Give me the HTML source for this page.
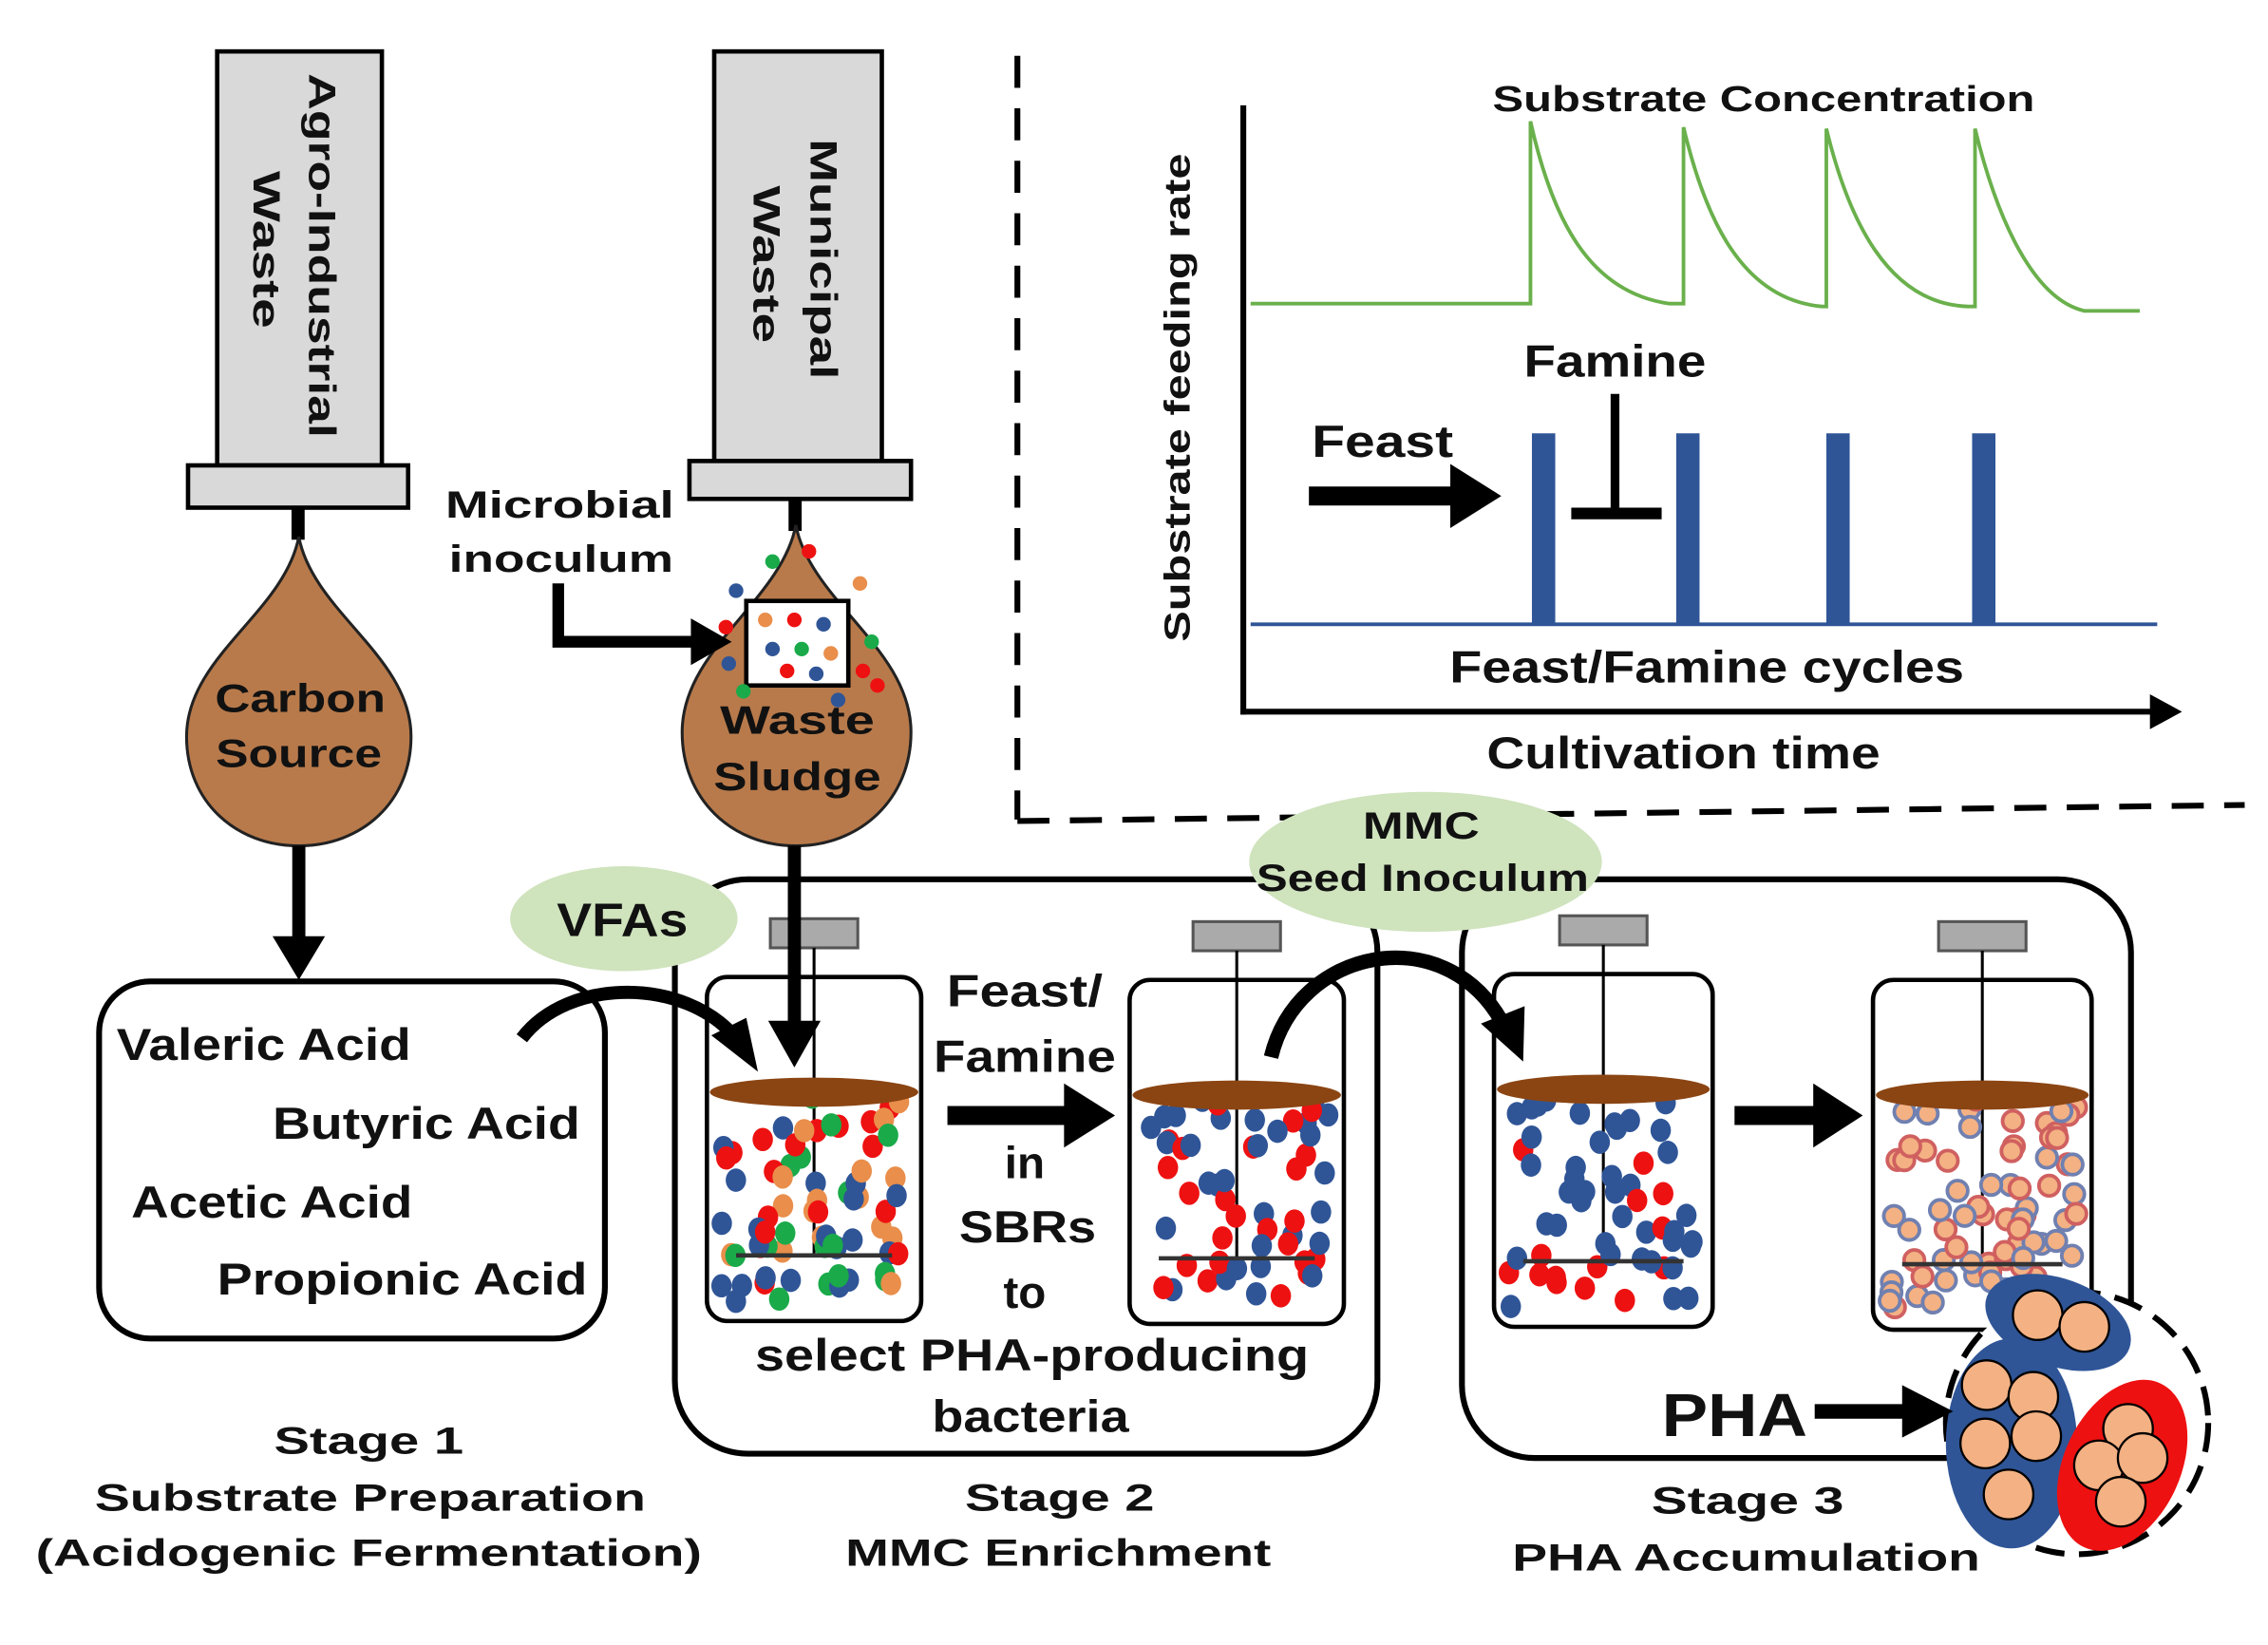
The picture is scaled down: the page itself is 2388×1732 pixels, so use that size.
<!DOCTYPE html>
<html><head><meta charset="utf-8"><style>
html,body{margin:0;padding:0;background:#fff}
svg{display:block}
text{font-family:"Liberation Sans",sans-serif;font-weight:bold;fill:#111}
</style></head><body>
<svg id="s" width="2388" height="1732" viewBox="0 0 1556 1128" xmlns="http://www.w3.org/2000/svg">
<rect width="1556" height="1128" fill="#fff"/>
<!-- dashed separators -->
<line x1="698" y1="38" x2="698" y2="562" stroke="#000" stroke-width="4" stroke-dasharray="22,14"/>
<line x1="698" y1="563" x2="1540" y2="552" stroke="#000" stroke-width="4" stroke-dasharray="22,14"/>

<!-- syringe 1 -->
<rect x="149" y="35" width="113" height="284" fill="#d9d9d9" stroke="#000" stroke-width="3"/>
<rect x="129" y="319" width="151" height="29" fill="#d9d9d9" stroke="#000" stroke-width="3"/>
<rect x="200" y="348" width="9" height="22" fill="#000"/>
<path d="M205,368 C215,420 282,450 282,505 C282,550 248,580 205,580 C162,580 128,550 128,505 C128,450 195,420 205,368 Z" fill="#b87a4b" stroke="#222" stroke-width="2"/>
<text x="206" y="488" font-size="27" text-anchor="middle" textLength="117" lengthAdjust="spacingAndGlyphs">Carbon</text>
<text x="205" y="526" font-size="27" text-anchor="middle" textLength="114" lengthAdjust="spacingAndGlyphs">Source</text>
<text transform="translate(212,50) rotate(90)" font-size="26" textLength="250" lengthAdjust="spacingAndGlyphs">Agro-Industrial</text>
<text transform="translate(174,117) rotate(90)" font-size="26" textLength="108" lengthAdjust="spacingAndGlyphs">Waste</text>

<!-- syringe 2 -->
<rect x="490" y="35" width="115" height="281" fill="#d9d9d9" stroke="#000" stroke-width="3"/>
<rect x="473" y="316" width="152" height="26" fill="#d9d9d9" stroke="#000" stroke-width="3"/>
<rect x="541" y="342" width="9" height="22" fill="#000"/>
<path d="M546,360 C556,412 625,445 625,502 C625,548 590,580 546,580 C502,580 468,548 468,502 C468,445 536,412 546,360 Z" fill="#b87a4b" stroke="#222" stroke-width="2"/>
<rect x="512" y="412" width="70" height="58" fill="#fff" stroke="#000" stroke-width="3"/>
<g id="drop2"></g>
<text x="547" y="503" font-size="27" text-anchor="middle" textLength="106" lengthAdjust="spacingAndGlyphs">Waste</text>
<text x="547" y="542" font-size="27" text-anchor="middle" textLength="115" lengthAdjust="spacingAndGlyphs">Sludge</text>
<text transform="translate(556,95) rotate(90)" font-size="26" textLength="165" lengthAdjust="spacingAndGlyphs">Municipal</text>
<text transform="translate(517,127) rotate(90)" font-size="26" textLength="108" lengthAdjust="spacingAndGlyphs">Waste</text>

<text x="384" y="355" font-size="26" text-anchor="middle" textLength="157" lengthAdjust="spacingAndGlyphs">Microbial</text>
<text x="385" y="392" font-size="26" text-anchor="middle" textLength="154" lengthAdjust="spacingAndGlyphs">inoculum</text>
<path d="M383,400 L383,440 L478,440" fill="none" stroke="#000" stroke-width="8"/>
<path d="M474,424 L502,440 L474,456 Z" fill="#000"/>

<!-- arrow down 1 -->
<line x1="205" y1="580" x2="205" y2="645" stroke="#000" stroke-width="9"/>
<path d="M187,642 L205,672 L223,642 Z" fill="#000"/>

<!-- stage 1 box -->
<rect x="68" y="673" width="347" height="245" rx="35" fill="#fff" stroke="#000" stroke-width="4"/>
<text x="80" y="727" font-size="31" textLength="202" lengthAdjust="spacingAndGlyphs">Valeric Acid</text>
<text x="187" y="781" font-size="31" textLength="211" lengthAdjust="spacingAndGlyphs">Butyric Acid</text>
<text x="90" y="835" font-size="31" textLength="193" lengthAdjust="spacingAndGlyphs">Acetic Acid</text>
<text x="149" y="888" font-size="31" textLength="254" lengthAdjust="spacingAndGlyphs">Propionic Acid</text>

<!-- stage boxes -->
<rect x="463" y="603" width="482" height="394" rx="50" fill="none" stroke="#000" stroke-width="4"/>
<rect x="1003" y="603" width="459" height="397" rx="50" fill="none" stroke="#000" stroke-width="4"/>

<!-- VFAs ellipse -->
<ellipse cx="428" cy="630" rx="78" ry="36" fill="#cfe3bd"/>
<text x="427" y="642" font-size="32" text-anchor="middle" textLength="90" lengthAdjust="spacingAndGlyphs">VFAs</text>

<g id="reactors"></g>

<!-- arrows drawn over reactors -->
<path d="M358,712 C390,670 470,670 505,712" fill="none" stroke="#000" stroke-width="9"/>
<path d="M488,710 L520,735 L512,698 Z" fill="#000"/>
<line x1="545" y1="580" x2="545" y2="705" stroke="#000" stroke-width="9"/>
<path d="M527,700 L545,732 L563,700 Z" fill="#000"/>

<line x1="650" y1="765" x2="735" y2="765" stroke="#000" stroke-width="13"/>
<path d="M730,743 L765,765 L730,787 Z" fill="#000"/>
<line x1="1190" y1="765" x2="1248" y2="765" stroke="#000" stroke-width="13"/>
<path d="M1244,743 L1278,765 L1244,787 Z" fill="#000"/>
<path d="M872,725 C890,650 990,630 1030,700" fill="none" stroke="#000" stroke-width="10"/>
<path d="M1016,702 L1045,728 L1046,690 Z" fill="#000"/>

<text x="703" y="690" font-size="31" text-anchor="middle" textLength="107" lengthAdjust="spacingAndGlyphs">Feast/</text>
<text x="703" y="735" font-size="31" text-anchor="middle" textLength="125" lengthAdjust="spacingAndGlyphs">Famine</text>
<text x="703" y="808" font-size="31" text-anchor="middle">in</text>
<text x="705" y="852" font-size="31" text-anchor="middle" textLength="94" lengthAdjust="spacingAndGlyphs">SBRs</text>
<text x="703" y="897" font-size="31" text-anchor="middle">to</text>
<text x="708" y="940" font-size="31" text-anchor="middle" textLength="380" lengthAdjust="spacingAndGlyphs">select PHA-producing</text>
<text x="707" y="982" font-size="31" text-anchor="middle" textLength="135" lengthAdjust="spacingAndGlyphs">bacteria</text>

<!-- MMC ellipse -->
<ellipse cx="978" cy="591" rx="121" ry="48" fill="#cfe3bd"/>
<text x="975" y="575" font-size="26" text-anchor="middle" textLength="80" lengthAdjust="spacingAndGlyphs">MMC</text>
<text x="976" y="611" font-size="26" text-anchor="middle" textLength="228" lengthAdjust="spacingAndGlyphs">Seed Inoculum</text>

<!-- PHA circle -->
<circle cx="1425" cy="976" r="90" fill="#fff" stroke="#000" stroke-width="4" stroke-dasharray="20,10"/>
<g id="pha"></g>
<text x="1190" y="985" font-size="42" text-anchor="middle" textLength="100" lengthAdjust="spacingAndGlyphs">PHA</text>
<line x1="1245" y1="968" x2="1310" y2="968" stroke="#000" stroke-width="10"/>
<path d="M1305,950 L1340,968 L1305,986 Z" fill="#000"/>

<!-- stage labels -->
<text x="253" y="997" font-size="26" text-anchor="middle" textLength="130" lengthAdjust="spacingAndGlyphs">Stage  1</text>
<text x="254" y="1036" font-size="26" text-anchor="middle" textLength="378" lengthAdjust="spacingAndGlyphs">Substrate  Preparation</text>
<text x="253" y="1074" font-size="26" text-anchor="middle" textLength="457" lengthAdjust="spacingAndGlyphs">(Acidogenic  Fermentation)</text>
<text x="727" y="1036" font-size="26" text-anchor="middle" textLength="130" lengthAdjust="spacingAndGlyphs">Stage  2</text>
<text x="726" y="1074" font-size="26" text-anchor="middle" textLength="292" lengthAdjust="spacingAndGlyphs">MMC  Enrichment</text>
<text x="1199" y="1038" font-size="26" text-anchor="middle" textLength="132" lengthAdjust="spacingAndGlyphs">Stage  3</text>
<text x="1198" y="1077" font-size="26" text-anchor="middle" textLength="321" lengthAdjust="spacingAndGlyphs">PHA  Accumulation</text>

<!-- chart -->
<line x1="853" y1="72" x2="853" y2="490" stroke="#000" stroke-width="4"/>
<line x1="851" y1="488" x2="1478" y2="488" stroke="#000" stroke-width="4"/>
<path d="M1475,476 L1497,488 L1475,500 Z" fill="#000"/>
<text transform="translate(816,440) rotate(-90)" font-size="25" textLength="335" lengthAdjust="spacingAndGlyphs">Substrate feeding rate</text>
<text x="1210" y="76" font-size="25" text-anchor="middle" textLength="372" lengthAdjust="spacingAndGlyphs">Substrate Concentration</text>
<path d="M858,208 L1050,208 L1050,83 C1065,150 1090,200 1145,208 L1155,208 L1155,87 C1170,150 1195,205 1250,210 L1253,210 L1253,88 C1268,150 1295,208 1350,210 L1355,210 L1355,88 C1370,150 1395,205 1430,213 L1468,213" fill="none" stroke="#6ab04c" stroke-width="2.5"/>
<line x1="858" y1="428" x2="1480" y2="428" stroke="#2f5597" stroke-width="2.5"/>
<rect x="1051" y="297" width="16" height="131" fill="#2f5597"/>
<rect x="1150" y="297" width="16" height="131" fill="#2f5597"/>
<rect x="1253" y="297" width="16" height="131" fill="#2f5597"/>
<rect x="1353" y="297" width="16" height="131" fill="#2f5597"/>
<text x="1108" y="258" font-size="31" text-anchor="middle" textLength="125" lengthAdjust="spacingAndGlyphs">Famine</text>
<line x1="1108" y1="270" x2="1108" y2="352" stroke="#000" stroke-width="6"/>
<line x1="1078" y1="352" x2="1140" y2="352" stroke="#000" stroke-width="8"/>
<text x="900" y="313" font-size="31" textLength="97" lengthAdjust="spacingAndGlyphs">Feast</text>
<line x1="898" y1="340" x2="1000" y2="340" stroke="#000" stroke-width="13"/>
<path d="M995,318 L1030,340 L995,362 Z" fill="#000"/>
<text x="1171" y="468" font-size="31" text-anchor="middle" textLength="353" lengthAdjust="spacingAndGlyphs">Feast/Famine cycles</text>
<text x="1155" y="527" font-size="31" text-anchor="middle" textLength="270" lengthAdjust="spacingAndGlyphs">Cultivation time</text>
</svg>
<script>
var NS="http://www.w3.org/2000/svg";
function el(p,t,a){var e=document.createElementNS(NS,t);for(var k in a)e.setAttribute(k,a[k]);p.appendChild(e);return e;}
var seed=7;function rnd(){seed=(seed*16807)%2147483647;return seed/2147483647;}
var R=document.getElementById("reactors");
var reactors=[[485,670,147,236,0],[775,672,147,236,1],[1025,668,150,242,2],[1285,672,150,240,3]];
var BL="#2f5597",RD="#ee1111",OR="#e98e4b",GR="#1aaa4a";
reactors.forEach(function(r){
 var x=r[0],y=r[1],w=r[2],h=r[3],t=r[4],cx=x+w/2;
 el(R,"rect",{x:x,y:y,width:w,height:h,rx:14,fill:"#fff",stroke:"#000","stroke-width":3});
 el(R,"rect",{x:cx-30,y:y-40,width:60,height:20,fill:"#aaa",stroke:"#555","stroke-width":2});
 el(R,"line",{x1:cx,y1:y-20,x2:cx,y2:y+h-45,stroke:"#000","stroke-width":2});
 for(var i=0;i<(t==3?75:(t==0?70:55));i++){
  var px=x+10+rnd()*(w-20),py=y+82+rnd()*(h-95);
  var c;
  if(t==0){var q=rnd();c=q<0.35?BL:q<0.6?RD:q<0.82?OR:GR;}
  else if(t<3){c=rnd()<0.65?BL:RD;}
  else c=rnd()<0.5?"#d06060":"#7080b0";
  if(t==3){el(R,"circle",{cx:px,cy:py,r:7,fill:"#f4b183",stroke:c,"stroke-width":2.5});}
  else el(R,"ellipse",{cx:px,cy:py,rx:7,ry:8,fill:c});
 }
 el(R,"ellipse",{cx:cx,cy:y+79,rx:w/2-2,ry:10,fill:"#8b4513"});
 el(R,"line",{x1:x+20,y1:y+h-45,x2:x+w-20,y2:y+h-45,stroke:"#333","stroke-width":3});
});
var D=document.getElementById("drop2");
[[530,385,"#1aaa4a"],[555,378,"#ee1111"],[505,405,"#2f5597"],[590,400,"#e98e4b"],[498,430,"#ee1111"],[598,440,"#1aaa4a"],[592,460,"#ee1111"],[500,455,"#2f5597"],[510,474,"#1aaa4a"],[575,480,"#2f5597"],[602,470,"#ee1111"]].forEach(function(d){el(D,"circle",{cx:d[0],cy:d[1],r:5,fill:d[2]});});
[[525,425,"#e98e4b"],[545,425,"#ee1111"],[565,428,"#2f5597"],[530,445,"#2f5597"],[550,445,"#1aaa4a"],[570,448,"#e98e4b"],[540,460,"#ee1111"],[560,462,"#2f5597"]].forEach(function(d){el(D,"circle",{cx:d[0],cy:d[1],r:5,fill:d[2]});});
var P=document.getElementById("pha");
el(P,"ellipse",{cx:1412,cy:907,rx:52,ry:30,fill:"#2f5597",transform:"rotate(20 1412 907)"});
el(P,"ellipse",{cx:1380,cy:990,rx:45,ry:72,fill:"#2f5597"});
el(P,"ellipse",{cx:1456,cy:1005,rx:40,ry:62,fill:"#ee1111",transform:"rotate(25 1456 1005)"});
[[1398,902],[1430,910],[1363,950],[1395,958],[1362,990],[1397,985],[1378,1025],[1460,980],[1440,1005],[1470,1000],[1455,1030]].forEach(function(c){el(P,"circle",{cx:c[0],cy:c[1],r:17,fill:"#f4b183",stroke:"#000","stroke-width":1.5});});
</script>
</body></html>
